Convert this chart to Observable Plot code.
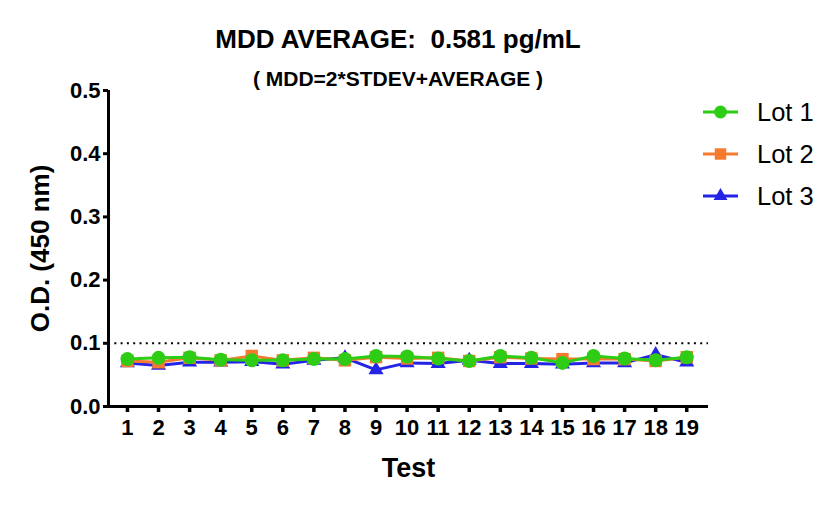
<!DOCTYPE html>
<html><head><meta charset="utf-8">
<script src="https://cdn.jsdelivr.net/npm/d3@7"></script>
<script src="https://cdn.jsdelivr.net/npm/@observablehq/plot@0.6"></script>
<style>
body{margin:0;background:#fff;}
#wrap{position:relative;width:838px;height:507px;font-family:"Liberation Sans",Arial,sans-serif;color:#000;}
#chart{position:absolute;left:0;top:0;}
.t{position:absolute;left:0;width:796px;text-align:center;font-weight:bold;white-space:pre;}
#title{top:24px;font-size:26px;}
#sub{top:67px;font-size:21px;}
#legend{position:absolute;left:700px;top:91px;}
.row{display:flex;align-items:center;height:42px;font-size:25.5px;}
.row svg{margin-right:17px;}
</style>
</head><body>
<div id="wrap">
  <div id="chart"></div>
  <div class="t" id="title"></div>
  <div class="t" id="sub"></div>
  <div id="legend"></div>
</div>
<script>
const titleText = "MDD AVERAGE:  0.581 pg/mL";
const subtitleText = "( MDD=2*STDEV+AVERAGE )";
const tests = [1,2,3,4,5,6,7,8,9,10,11,12,13,14,15,16,17,18,19];
const lot1 = [0.075,0.077,0.078,0.074,0.073,0.073,0.075,0.075,0.080,0.079,0.076,0.072,0.080,0.077,0.069,0.080,0.076,0.073,0.078];
const lot2 = [0.072,0.070,0.077,0.073,0.080,0.073,0.077,0.073,0.078,0.076,0.077,0.072,0.078,0.076,0.075,0.075,0.075,0.072,0.078];
const lot3 = [0.069,0.065,0.070,0.070,0.071,0.067,0.073,0.077,0.058,0.069,0.068,0.073,0.068,0.068,0.067,0.069,0.069,0.082,0.070];
const lotNames = ["Lot 1","Lot 2","Lot 3"];
const lotColors = ["#2ecc14","#f57a2f","#2424e6"];
const lotSymbols = ["circle","square","triangle"];
const lotSizes = [7, 7, 5.6];
const yTicks = [0,0.1,0.2,0.3,0.4,0.5];
const xDomain = [0.39,19.7];
const yDomain = [0,0.5];
const threshold = 0.1;
const font = "Liberation Sans, Arial, sans-serif";

document.getElementById("title").textContent = titleText;
document.getElementById("sub").textContent = subtitleText;

const series = [lot1, lot2, lot3].map((vals, k) =>
  tests.map((t, i) => ({test: t, od: vals[i], lot: lotNames[k]})));

const seriesMarks = [];
[2,1,0].forEach(k => {
  seriesMarks.push(Plot.line(series[k], {x:"test", y:"od", stroke: lotColors[k], strokeWidth: 3}));
  seriesMarks.push(Plot.dot(series[k], {x:"test", y:"od", symbol: lotSymbols[k], fill: lotColors[k], stroke: "none", r: lotSizes[k]}));
});

const chart = Plot.plot({
  width: 838, height: 507,
  marginLeft: 108, marginRight: 130, marginTop: 90, marginBottom: 101,
  style: {fontFamily: font, background: "#fff"},
  x: {domain: xDomain},
  y: {domain: yDomain},
  marks: [
    Plot.ruleY([threshold], {stroke: "#000", strokeWidth: 2, strokeDasharray: "2,4.3"}),
    ...seriesMarks,
    Plot.ruleY([yDomain[0]], {stroke: "#000", strokeWidth: 3}),
    Plot.ruleX([xDomain[0]], {stroke: "#000", strokeWidth: 3}),
    Plot.axisY({ticks: yTicks, tickFormat: d3.format(".1f"), tickSize: 5, tickPadding: 3, strokeWidth: 3, fontSize: 22, fontWeight: "bold", fontFamily: font, fill: "#000", label: null}),
    Plot.axisX({ticks: tests, tickFormat: d3.format("d"), tickSize: 6, tickPadding: 7, strokeWidth: 3.5, fontSize: 22, fontWeight: "bold", fontFamily: font, fill: "#000", label: null}),
    Plot.text(["O.D. (450 nm)"], {frameAnchor: "left", rotate: -90, dx: -68, textAnchor: "middle", lineAnchor: "middle", fontSize: 26, fontWeight: "bold", fontFamily: font, fill: "#000"}),
    Plot.text(["Test"], {frameAnchor: "bottom", dy: 62, textAnchor: "middle", lineAnchor: "middle", fontSize: 27, fontWeight: "bold", fontFamily: font, fill: "#000"})
  ]
});
document.getElementById("chart").appendChild(chart);

// legend
const legend = d3.select("#legend");
lotNames.forEach((name, k) => {
  const row = legend.append("div").attr("class", "row");
  const svg = row.append("svg").attr("width", 40).attr("height", 20);
  svg.append("line").attr("x1", 3).attr("x2", 38).attr("y1", 10).attr("y2", 10)
    .attr("stroke", lotColors[k]).attr("stroke-width", 3);
  svg.append("path").attr("transform", "translate(20.5,10)")
    .attr("d", d3.symbol(d3["symbol" + lotSymbols[k][0].toUpperCase() + lotSymbols[k].slice(1)], Math.PI * lotSizes[k] * lotSizes[k] * 0.85)())
    .attr("fill", lotColors[k]);
  row.append("span").text(name);
});
</script>
</body></html>
